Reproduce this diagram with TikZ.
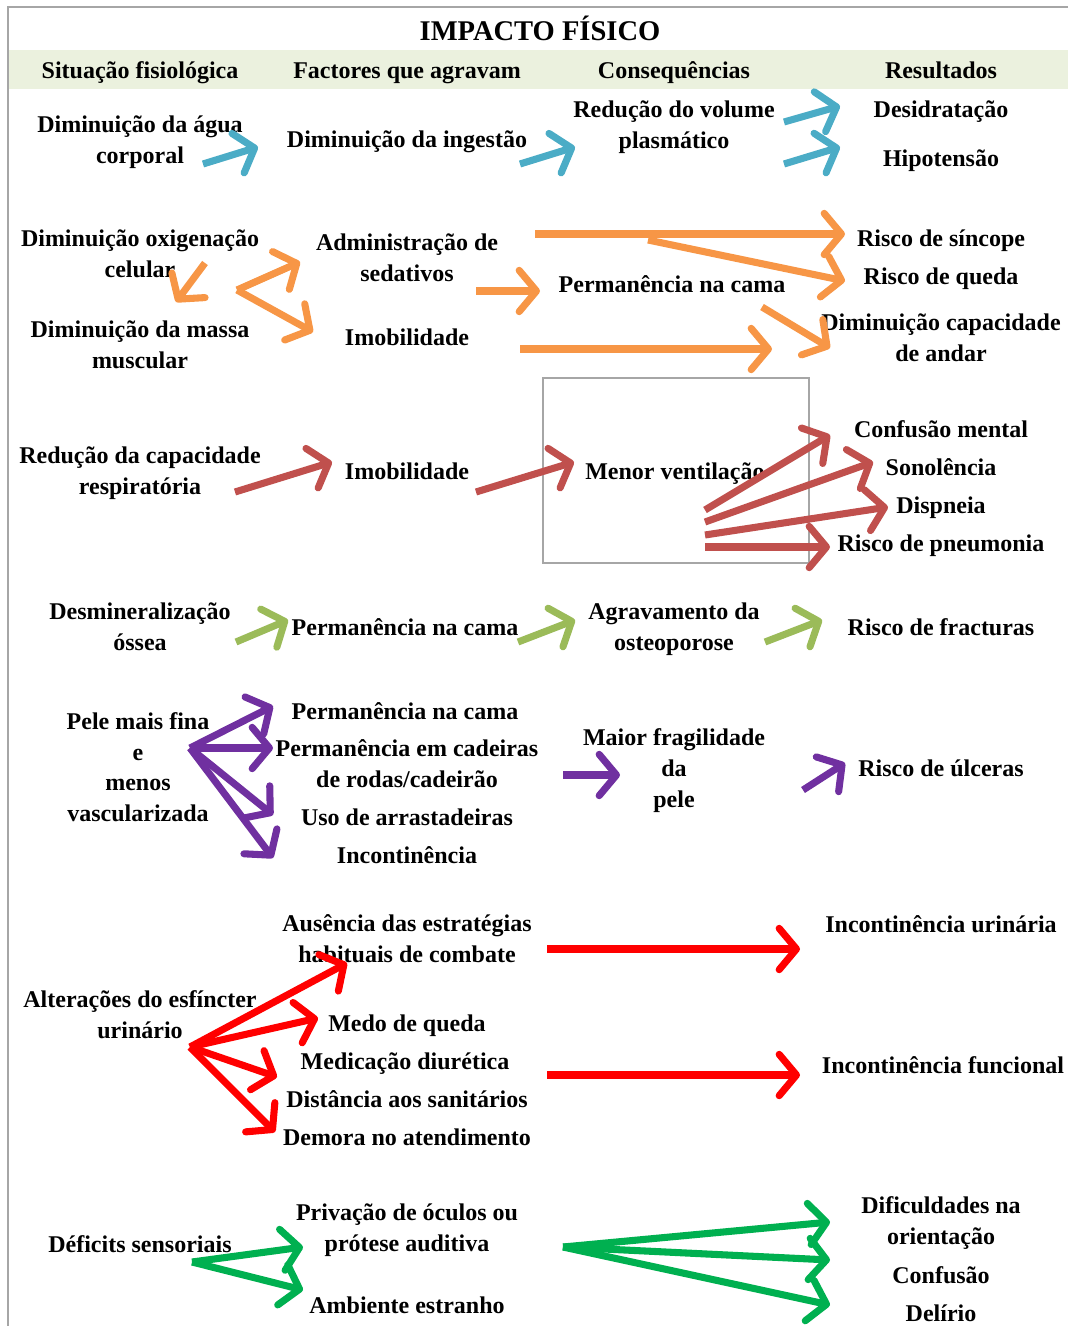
\documentclass[tikz,border=0pt]{standalone}
\usepackage{fontspec}
\setmainfont{Liberation Serif}
\usetikzlibrary{arrows.meta}
\definecolor{cblue}{HTML}{4BACC6}
\definecolor{corange}{HTML}{F79646}
\definecolor{cred}{HTML}{C0504D}
\definecolor{cgreen}{HTML}{9BBB59}
\definecolor{cpurple}{HTML}{7030A0}
\definecolor{cbright}{HTML}{FF0000}
\definecolor{cgreentwo}{HTML}{00B050}
\definecolor{bandcol}{HTML}{EBF1DE}
\definecolor{framecol}{HTML}{A6A6A6}
\begin{document}
\begin{tikzpicture}[x=0.75pt,y=-0.75pt,
  txt/.style={font=\bfseries\fontsize{18}{22.9}\selectfont, align=center, inner sep=0pt, anchor=base},
  arr/.style={line width=5.3pt, -{Straight Barb[length=13pt,width=31pt,round]},
    preaction={draw=black, opacity=0.16, transform canvas={shift={(1.2pt,-1.8pt)}}}},
  ablue/.style={arr, draw=cblue},
  aorange/.style={arr, draw=corange},
  ared/.style={arr, draw=cred},
  agreen/.style={arr, draw=cgreen},
  apurple/.style={arr, draw=cpurple},
  abright/.style={arr, draw=cbright},
  agreentwo/.style={arr, draw=cgreentwo}]
\useasboundingbox (0,0) rectangle (1068,1326);
\fill[bandcol] (8,50) rectangle (1068,89);
\draw[framecol, line width=1.5pt] (1068,7) -- (8,7) -- (8,1326);
\draw[framecol, line width=1pt] (543,378) rectangle (809,563);

% title and headers
\node[txt, font=\bfseries\fontsize{21.4}{26}\selectfont] (title) at (540,41) {IMPACTO FÍSICO};
\node[txt] (h1) at (140,79) {Situação fisiológica};
\node[txt] (h2) at (407,79) {Factores que agravam};
\node[txt] (h3) at (674,79) {Consequências};
\node[txt] (h4) at (941,79) {Resultados};

% row 1 (multi-line nodes: y = baseline of last line)
\node[txt] (n11) at (140,163.5) {Diminuição da água\\corporal};
\node[txt] (n12) at (407,148) {Diminuição da ingestão};
\node[txt] (n13) at (674,148.5) {Redução do volume\\plasmático};
\node[txt] (n14) at (941,118) {Desidratação};
\node[txt] (n15) at (941,167) {Hipotensão};

% row 2
\node[txt] (n21) at (140,277.5) {Diminuição oxigenação\\celular};
\node[txt] (n22) at (140,368.5) {Diminuição da massa\\muscular};
\node[txt] (n23) at (407,281.5) {Administração de\\sedativos};
\node[txt] (n24) at (407,346) {Imobilidade};
\node[txt] (n25) at (672,293) {Permanência na cama};
\node[txt] (n26) at (941,247) {Risco de síncope};
\node[txt] (n27) at (941,285) {Risco de queda};
\node[txt] (n28) at (941,361.5) {Diminuição capacidade\\de andar};

% row 3
\node[txt] (n31) at (140,494.5) {Redução da capacidade\\respiratória};
\node[txt] (n32) at (407,479) {Imobilidade};
\node[txt, anchor=base west] (n33) at (585,479) {Menor ventilação};
\node[txt] (n34) at (941,437) {Confusão mental};
\node[txt] (n35) at (941,475) {Sonolência};
\node[txt] (n36) at (941,513) {Dispneia};
\node[txt] (n37) at (941,551) {Risco de pneumonia};

% row 4
\node[txt] (n41) at (140,650.5) {Desmineralização\\óssea};
\node[txt] (n42) at (405,635) {Permanência na cama};
\node[txt] (n43) at (674,650.5) {Agravamento da\\osteoporose};
\node[txt] (n44) at (941,635) {Risco de fracturas};

% row 5
\node[txt] (n51) at (138,821.5) {Pele mais fina\\e\\menos\\vascularizada};
\node[txt] (n52) at (405,719) {Permanência na cama};
\node[txt] (n53) at (407,787.5) {Permanência em cadeiras\\de rodas/cadeirão};
\node[txt] (n54) at (407,825) {Uso de arrastadeiras};
\node[txt] (n55) at (407,863) {Incontinência};
\node[txt] (n56) at (674,807) {Maior fragilidade\\da\\pele};
\node[txt] (n57) at (941,776) {Risco de úlceras};

% row 6
\node[txt] (n61) at (140,1038.5) {Alterações do esfíncter\\urinário};
\node[txt] (n62) at (407,962.5) {Ausência das estratégias\\habituais de combate};
\node[txt] (n63) at (407,1031) {Medo de queda};
\node[txt] (n64) at (405,1069) {Medicação diurética};
\node[txt] (n65) at (407,1107) {Distância aos sanitários};
\node[txt] (n66) at (407,1145) {Demora no atendimento};
\node[txt] (n67) at (941,932) {Incontinência urinária};
\node[txt] (n68) at (943,1073) {Incontinência funcional};

% row 7
\node[txt] (n71) at (140,1252) {Déficits sensoriais};
\node[txt] (n72) at (407,1251.5) {Privação de óculos ou\\prótese auditiva};
\node[txt] (n73) at (407,1313) {Ambiente estranho};
\node[txt] (n74) at (941,1244.5) {Dificuldades na\\orientação};
\node[txt] (n75) at (941,1283) {Confusão};
\node[txt] (n76) at (941,1321) {Delírio};

% arrow end points
\coordinate (b1s) at (203,164); \coordinate (b1e) at (258,147);
\coordinate (b2s) at (520,164); \coordinate (b2e) at (575,147);
\coordinate (b3s) at (784,122); \coordinate (b3e) at (840,106);
\coordinate (b4s) at (784,164); \coordinate (b4e) at (840,147);

\coordinate (o1s) at (205,263); \coordinate (o1e) at (176,302);
\coordinate (o2s) at (237,290); \coordinate (o2e) at (300,262); \coordinate (o3e) at (313,332);
\coordinate (o4s) at (476,291); \coordinate (o4e) at (540,291);
\coordinate (o5s) at (535,234); \coordinate (o5e) at (845,234);
\coordinate (o6s) at (648,240); \coordinate (o6e) at (845,281);
\coordinate (o7s) at (762,307); \coordinate (o7e) at (830,348);
\coordinate (o8s) at (520,349); \coordinate (o8e) at (772,349);

\coordinate (r1s) at (235,492); \coordinate (r1e) at (332,462);
\coordinate (r2s) at (476,492); \coordinate (r2e) at (574,462);
\coordinate (r3s) at (705,510); \coordinate (r3e) at (830,435);
\coordinate (r4s) at (705,522); \coordinate (r4e) at (873,462);
\coordinate (r5s) at (705,535); \coordinate (r5e) at (888,507);
\coordinate (r6s) at (705,547); \coordinate (r6e) at (830,547);

\coordinate (g1s) at (236,642); \coordinate (g1e) at (288,620);
\coordinate (g2s) at (518,642); \coordinate (g2e) at (575,620);
\coordinate (g3s) at (765,642); \coordinate (g3e) at (822,620);

\coordinate (p0) at (190,748);
\coordinate (p1e) at (273,706); \coordinate (p2e) at (273,748);
\coordinate (p3e) at (273,815); \coordinate (p4e) at (273,858);
\coordinate (p5s) at (563,775); \coordinate (p5e) at (620,775);
\coordinate (p6s) at (803,790); \coordinate (p6e) at (845,763);

\coordinate (s0) at (190,1047);
\coordinate (s1e) at (347,963); \coordinate (s2e) at (318,1018);
\coordinate (s3e) at (277,1077); \coordinate (s4e) at (275,1132);
\coordinate (s5s) at (547,949); \coordinate (s5e) at (800,949);
\coordinate (s6s) at (547,1075); \coordinate (s6e) at (800,1075);

\coordinate (d0) at (192,1262);
\coordinate (d1e) at (303,1247); \coordinate (d2e) at (303,1290);
\coordinate (e0) at (563,1247);
\coordinate (e1e) at (830,1222); \coordinate (e2e) at (830,1260); \coordinate (e3e) at (830,1305);

% arrows
\draw[ablue] (b1s) -- (b1e);
\draw[ablue] (b2s) -- (b2e);
\draw[ablue] (b3s) -- (b3e);
\draw[ablue] (b4s) -- (b4e);

\draw[aorange] (o1s) -- (o1e);
\draw[aorange] (o2s) -- (o2e);
\draw[aorange] (o2s) -- (o3e);
\draw[aorange] (o4s) -- (o4e);
\draw[aorange] (o5s) -- (o5e);
\draw[aorange] (o6s) -- (o6e);
\draw[aorange] (o7s) -- (o7e);
\draw[aorange] (o8s) -- (o8e);

\draw[ared] (r1s) -- (r1e);
\draw[ared] (r2s) -- (r2e);
\draw[ared] (r3s) -- (r3e);
\draw[ared] (r4s) -- (r4e);
\draw[ared] (r5s) -- (r5e);
\draw[ared] (r6s) -- (r6e);

\draw[agreen] (g1s) -- (g1e);
\draw[agreen] (g2s) -- (g2e);
\draw[agreen] (g3s) -- (g3e);

\draw[apurple] (p0) -- (p1e);
\draw[apurple] (p0) -- (p2e);
\draw[apurple] (p0) -- (p3e);
\draw[apurple] (p0) -- (p4e);
\draw[apurple] (p5s) -- (p5e);
\draw[apurple] (p6s) -- (p6e);

\draw[abright] (s0) -- (s1e);
\draw[abright] (s0) -- (s2e);
\draw[abright] (s0) -- (s3e);
\draw[abright] (s0) -- (s4e);
\draw[abright] (s5s) -- (s5e);
\draw[abright] (s6s) -- (s6e);

\draw[agreentwo] (d0) -- (d1e);
\draw[agreentwo] (d0) -- (d2e);
\draw[agreentwo] (e0) -- (e1e);
\draw[agreentwo] (e0) -- (e2e);
\draw[agreentwo] (e0) -- (e3e);
\end{tikzpicture}
\end{document}
